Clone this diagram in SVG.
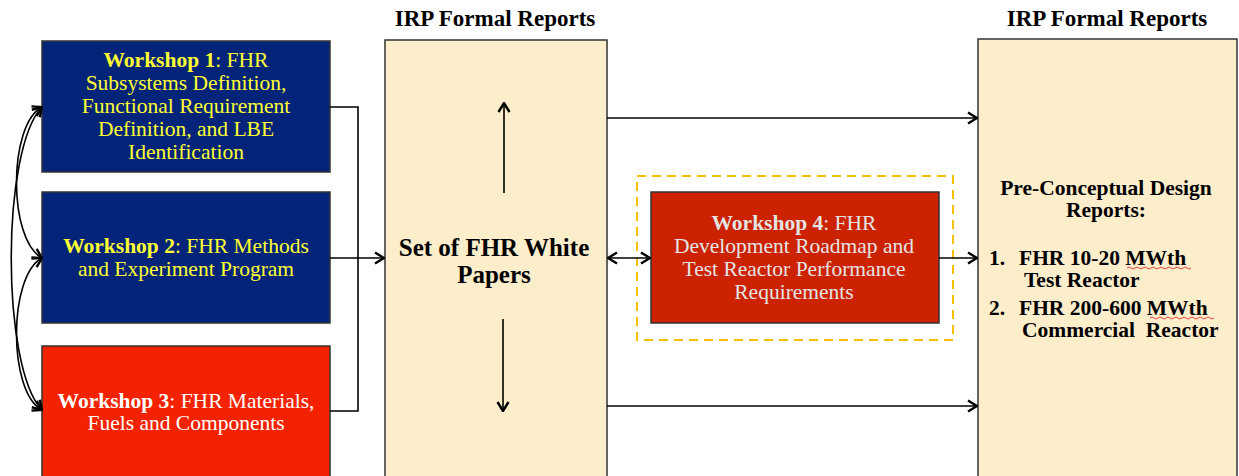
<svg xmlns="http://www.w3.org/2000/svg" width="1239" height="476" viewBox="0 0 1239 476">
<style>
text{font-family:"Liberation Serif","Times New Roman",serif;font-size:21.5px}
.b{font-weight:bold}
.hdr{font-weight:bold;font-size:23px;fill:#000;text-anchor:middle}
.ws{text-anchor:middle;fill:#FFFF33}
.w3{text-anchor:middle;fill:#FFFFFF}
.w4{text-anchor:middle;fill:#E4E4E4}
.blk{fill:#000;font-weight:bold}
.box{stroke:#333;stroke-width:1.5}
.ln{fill:none;stroke:#000;stroke-width:1.6}
</style>
<defs>
<marker id="ah" viewBox="0 0 12 14" refX="11" refY="7" markerWidth="12" markerHeight="14" markerUnits="userSpaceOnUse" orient="auto-start-reverse">
<path d="M2,1.5 L11,7 L2,12.5" fill="none" stroke="#000" stroke-width="2.4" stroke-linejoin="miter"/>
</marker>
</defs>
<rect width="1239" height="476" fill="#fff"/>

<g id="hdr1"><text class="hdr" x="495" y="26">IRP Formal Reports</text></g>
<g id="hdr2"><text class="hdr" x="1107" y="26">IRP Formal Reports</text></g>

<g id="ws1">
<rect class="box" x="42" y="41" width="288" height="131" fill="#032479"/>
<text class="ws" y="67"><tspan x="186"><tspan class="b">Workshop 1</tspan>: FHR</tspan><tspan x="186" y="90">Subsystems Definition,</tspan><tspan x="186" y="113">Functional Requirement</tspan><tspan x="186" y="136">Definition, and LBE</tspan><tspan x="186" y="159">Identification</tspan></text>
</g>
<g id="ws2">
<rect class="box" x="42" y="192" width="288" height="131" fill="#032479"/>
<text class="ws" y="253"><tspan x="186"><tspan class="b">Workshop 2</tspan>: FHR Methods</tspan><tspan x="186" y="276">and Experiment Program</tspan></text>
</g>
<g id="ws3">
<rect class="box" x="42" y="346" width="288" height="140" fill="#F52200"/>
<text class="w3" y="408"><tspan x="186"><tspan class="b">Workshop 3</tspan>: FHR Materials,</tspan><tspan x="186" y="430">Fuels and Components</tspan></text>
</g>

<g id="whitepapers">
<rect class="box" x="385" y="40" width="222" height="446" fill="#FCEDCB"/>
<text class="blk" text-anchor="middle" style="font-size:25px" x="494" y="256">Set of FHR White<tspan x="494" y="283">Papers</tspan></text>
</g>

<g id="ws4">
<rect x="637" y="176" width="316" height="164" fill="none" stroke="#F5C000" stroke-width="2" stroke-dasharray="9,6"/>
<rect class="box" x="651" y="192" width="288" height="131" fill="#CC2200"/>
<text class="w4" y="230"><tspan x="794"><tspan class="b">Workshop 4</tspan>: FHR</tspan><tspan x="794" y="253">Development Roadmap and</tspan><tspan x="794" y="276">Test Reactor Performance</tspan><tspan x="794" y="299">Requirements</tspan></text>
</g>

<g id="reports">
<rect class="box" x="978" y="39" width="259" height="447" fill="#FCEDCB"/>
<text class="blk" text-anchor="middle" x="1106" y="195">Pre-Conceptual Design<tspan x="1106" y="217">Reports:</tspan></text>
<text class="blk" x="989" y="265" style="white-space:pre">1.<tspan x="1019">FHR 10-20 MWth</tspan><tspan x="1024" y="287">Test Reactor</tspan><tspan x="989" y="315">2.</tspan><tspan x="1019" y="315">FHR 200-600 MWth</tspan><tspan x="1022" y="337">Commercial  Reactor</tspan></text>
<path d="M1127,268 q2,-2 4,0 t4,0 t4,0 t4,0 t4,0 t4,0 t4,0 t4,0 t4,0 t4,0 t4,0 t4,0 t4,0 t4,0 t4,0 t4,0" fill="none" stroke="#E03030" stroke-width="0.9"/>
<path d="M1150,318 q2,-2 4,0 t4,0 t4,0 t4,0 t4,0 t4,0 t4,0 t4,0 t4,0 t4,0 t4,0 t4,0 t4,0 t4,0 t4,0 t4,0" fill="none" stroke="#E03030" stroke-width="0.9"/>
</g>

<g id="connectors" class="ln">
<path class="ln" d="M42,107 C8,125 8,240 42,258" marker-start="url(#ah)" marker-end="url(#ah)"/>
<path class="ln" d="M42,258 C8,276 8,392 42,410" marker-start="url(#ah)" marker-end="url(#ah)"/>
<path class="ln" d="M42,107 C1,150 1,367 42,410" marker-start="url(#ah)" marker-end="url(#ah)"/>
<path class="ln" d="M330,107 H358 V411 H330"/>
<path class="ln" d="M330,258 H384" marker-end="url(#ah)"/>
<path class="ln" d="M504,193 V103" marker-end="url(#ah)"/>
<path class="ln" d="M503,319 V411" marker-end="url(#ah)"/>
<path class="ln" d="M607,118 H977" marker-end="url(#ah)"/>
<path class="ln" d="M607,406 H977" marker-end="url(#ah)"/>
<path class="ln" d="M608,258 H650" marker-start="url(#ah)" marker-end="url(#ah)"/>
<path class="ln" d="M939,258 H977" marker-end="url(#ah)"/>
</g>
</svg>
